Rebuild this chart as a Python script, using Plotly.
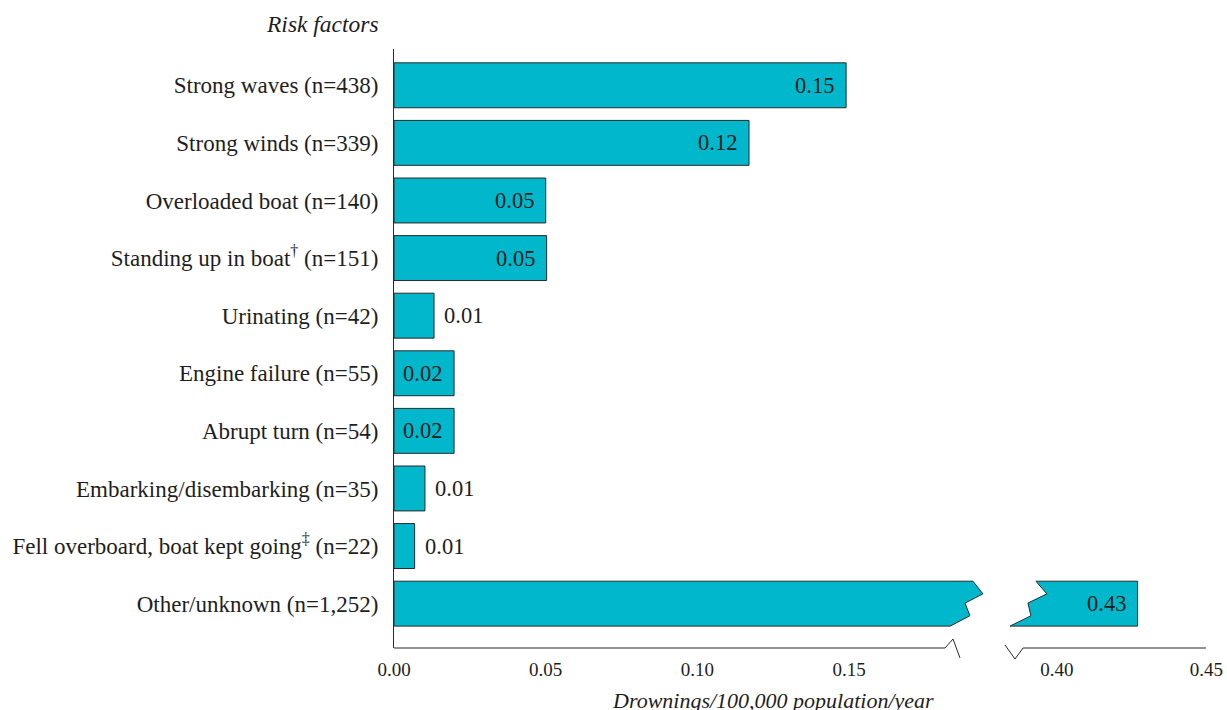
import plotly.graph_objects as go

categories = [
    "Strong waves (n=438)",
    "Strong winds (n=339)",
    "Overloaded boat (n=140)",
    "Standing up in boat<sup>†</sup> (n=151)",
    "Urinating (n=42)",
    "Engine failure (n=55)",
    "Abrupt turn (n=54)",
    "Embarking/disembarking (n=35)",
    "Fell overboard, boat kept going<sup>‡</sup> (n=22)",
    "Other/unknown (n=1,252)",
]
values = [0.149, 0.117, 0.050, 0.0503, 0.0132, 0.0198, 0.0198, 0.0102, 0.0068, 0.427]
labels = ["0.15", "0.12", "0.05", "0.05", "0.01", "0.02", "0.02", "0.01", "0.01", "0.43"]
label_inside = [True, True, True, True, False, True, True, False, False, True]
left_ticks = [0.00, 0.05, 0.10, 0.15]
right_ticks = [0.40, 0.45]

FONT = "Liberation Serif"
BAR = "rgb(0,183,204)"
EDGE = "#2a2a2a"
TXT = "#1e1e1e"

W, H = 1227, 710
ML, MR, MT, MB = 394, 20, 49, 62
PW = W - ML - MR
PH = H - MT - MB

L_END = 0.1951
D1 = (986 - ML) / PW
D2 = (1003 - ML) / PW
R_START, R_END = 0.382, 0.4502
R_BASE = 0.383  # hidden start of the right-hand piece (under the break cut-out)

pos = list(range(len(categories)))
big = [i for i, v in enumerate(values) if v > L_END]

fig = go.Figure()
fig.add_trace(go.Bar(
    y=pos, x=values, orientation="h", width=0.78,
    marker=dict(color=BAR, line=dict(color=EDGE, width=1)),
    xaxis="x", yaxis="y", hoverinfo="skip", showlegend=False,
))
fig.add_trace(go.Bar(
    y=[pos[i] for i in big], x=[values[i] - R_BASE for i in big], base=R_BASE,
    orientation="h", width=0.78,
    marker=dict(color=BAR, line=dict(color=EDGE, width=1)),
    xaxis="x2", yaxis="y", hoverinfo="skip", showlegend=False,
))


def px(xp):
    return (xp - ML) / PW


def py(yp):
    return (MT + PH - yp) / PH


annotations = []
for i, (v, t, ins) in enumerate(zip(values, labels, label_inside)):
    ax = "x2" if v > L_END else "x"
    annotations.append(dict(
        x=v, y=pos[i], xref=ax, yref="y", text=t, showarrow=False,
        xanchor="right" if ins else "left", xshift=-10 if ins else 8,
        font=dict(family=FONT, size=22.5, color=TXT),
    ))
annotations.append(dict(
    x=px(381), y=py(24), xref="paper", yref="paper",
    text="<i>Risk factors</i>", showarrow=False, xanchor="right", yanchor="middle",
    font=dict(family=FONT, size=23.5, color=TXT),
))
annotations.append(dict(
    x=px(773), y=py(700), xref="paper", yref="paper",
    text="<i>Drownings/100,000 population/year</i>", showarrow=False,
    xanchor="center", yanchor="middle",
    font=dict(family=FONT, size=22, color=TXT),
))

shapes = []
# break cut-outs on the "Other/unknown" bar
for i in big:
    top, bot = pos[i] - 0.39, pos[i] + 0.39
    # clean gap between the two axis panels
    shapes.append(dict(type="rect", xref="paper", yref="y", x0=px(985), x1=px(1002),
                       y0=top - 0.06, y1=bot + 0.06, fillcolor="white", line=dict(width=0)))
    lz = [(0.1908, top), (0.1941, pos[i] - 0.17), (0.1882, pos[i] - 0.01),
          (0.1898, pos[i] + 0.21), (0.1833, bot)]
    p = "M %f,%f " % (lz[0][0], top - 0.06) + " ".join("L %f,%f" % q for q in lz)
    p += " L %f,%f L %f,%f L %f,%f Z" % (lz[-1][0], bot + 0.06, L_END + 0.01, bot + 0.06,
                                          L_END + 0.01, top - 0.06)
    shapes.append(dict(type="path", path=p, xref="x", yref="y",
                       fillcolor="white", line=dict(width=0), layer="above"))
    shapes.append(dict(type="path", path="M " + " L ".join("%f,%f" % q for q in lz),
                       xref="x", yref="y", line=dict(color=EDGE, width=1), layer="above"))
    rz = [(0.3930, top), (0.39667, pos[i] - 0.17), (0.39033, pos[i] - 0.01),
          (0.39133, pos[i] + 0.21), (0.38433, bot)]
    p = "M %f,%f " % (rz[0][0], top - 0.06) + " ".join("L %f,%f" % q for q in rz)
    p += " L %f,%f L %f,%f L %f,%f Z" % (rz[-1][0], bot + 0.06, R_START - 0.01, bot + 0.06,
                                          R_START - 0.01, top - 0.06)
    shapes.append(dict(type="path", path=p, xref="x2", yref="y",
                       fillcolor="white", line=dict(width=0), layer="above"))
    shapes.append(dict(type="path", path="M " + " L ".join("%f,%f" % q for q in rz),
                       xref="x2", yref="y", line=dict(color=EDGE, width=1), layer="above"))

# broken x-axis line
shapes.append(dict(type="path", xref="paper", yref="paper",
                   path="M %f,%f L %f,%f L %f,%f L %f,%f" % (px(394), py(648), px(945), py(648),
                                                            px(953), py(639), px(960), py(658)),
                   line=dict(color=EDGE, width=1)))
shapes.append(dict(type="path", xref="paper", yref="paper",
                   path="M %f,%f L %f,%f L %f,%f L %f,%f" % (px(1005), py(645), px(1015), py(659),
                                                            px(1023), py(648), px(1206), py(648)),
                   line=dict(color=EDGE, width=1)))

xcommon = dict(tickformat=".2f", showgrid=False, zeroline=False, showline=False,
               ticks="outside", ticklen=4, tickcolor="rgba(0,0,0,0)", automargin=False,
               tickfont=dict(family=FONT, size=19, color=TXT), anchor="y")

fig.update_layout(
    width=W, height=H, margin=dict(l=ML, r=MR, t=MT, b=MB, autoexpand=False),
    paper_bgcolor="white", plot_bgcolor="white",
    font=dict(family=FONT, color=TXT),
    barmode="overlay",
    annotations=annotations, shapes=shapes,
    xaxis=dict(domain=[0, D1], range=[0, L_END], tickvals=left_ticks, **xcommon),
    xaxis2=dict(domain=[D2, 1], range=[R_START, R_END], tickvals=right_ticks, **xcommon),
    yaxis=dict(range=[9.77, -0.63], tickvals=pos, ticktext=categories, automargin=False,
               showgrid=False, zeroline=False, showline=True, linecolor=EDGE, linewidth=1,
               ticks="outside", ticklen=10, tickcolor="rgba(0,0,0,0)",
               tickfont=dict(family=FONT, size=23, color=TXT)),
)

fig.write_html("out.html", config={"displayModeBar": False},
               post_script="document.body.style.margin='0';")
